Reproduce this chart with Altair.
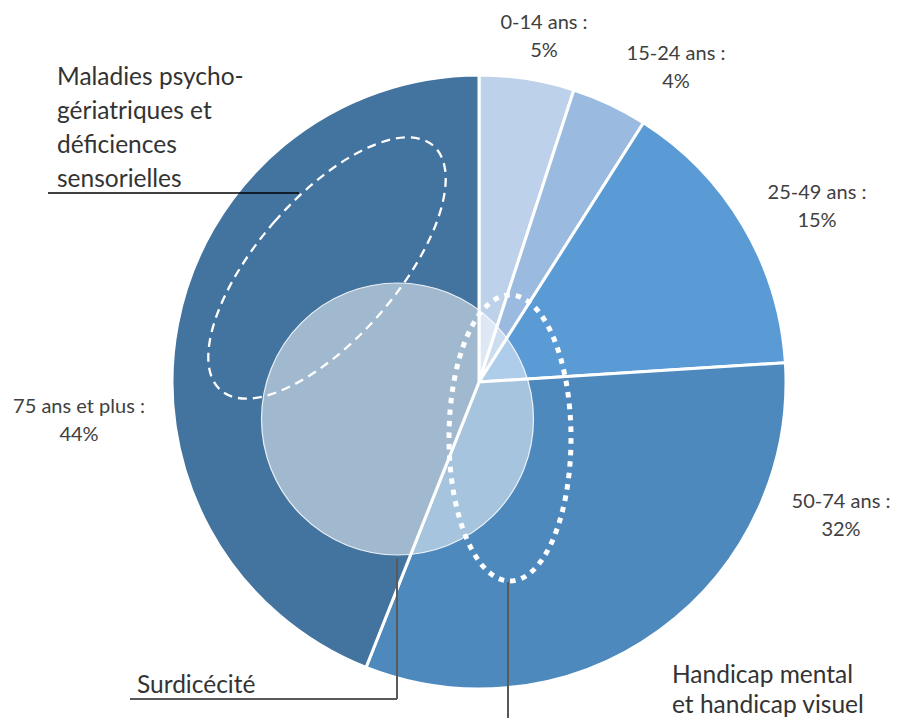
import altair as alt
import pandas as pd

# ---------------- data ----------------
categories = ["0-14 ans", "15-24 ans", "25-49 ans", "50-74 ans", "75 ans et plus"]
values = [5, 4, 15, 32, 44]
colors = ["#BDD1EB", "#9ABAE0", "#5B9BD5", "#4E89BE", "#43739F"]
label_texts = ["0-14 ans :\n5%", "15-24 ans :\n4%", "25-49 ans :\n15%",
               "50-74 ans :\n32%", "75 ans et plus :\n44%"]

annotation_texts = [
    "Maladies psycho-\ngériatriques et\ndéficiences\nsensorielles",
    "Surdicécité",
]
annotation_texts2 = ["Handicap mental\net handicap visuel"]

# ---------------- layout (chart pixel space, y downward) ----------------
W, H = 883, 710
pie_cx, pie_cy, pie_r = 471, 374, 307
label_x = [536, 668, 809, 833, 71]
label_y = [21, 52, 191, 500, 405]
annot_x = [49, 129]
annot_y = [77, 685]
annot2_x = [664]
annot2_y = [675]

ELLIPSE_K = 0.5523


def ellipse_path(rx):
    k = ELLIPSE_K
    return (f"M {-rx} 0 C {-rx} {-k} {-rx*k} -1 0 -1 "
            f"C {rx*k} -1 {rx} {-k} {rx} 0 "
            f"C {rx} {k} {rx*k} 1 0 1 "
            f"C {-rx*k} 1 {-rx} {k} {-rx} 0 Z")


xs = alt.Scale(domain=[0, W], nice=False, zero=False)
ys = alt.Scale(domain=[0, H], nice=False, zero=False, reverse=True)
X = alt.X("x:Q", scale=xs, axis=None)
Y = alt.Y("y:Q", scale=ys, axis=None)

pie_df = pd.DataFrame({"cat": categories, "value": values,
                       "idx": list(range(len(categories)))})

pie = alt.Chart(pie_df).mark_arc(radius=pie_r, stroke="white", strokeWidth=3).encode(
    theta=alt.Theta("value:Q", stack=True),
    color=alt.Color("cat:N", scale=alt.Scale(domain=categories, range=colors), legend=None),
    order=alt.Order("idx:Q"),
    x=alt.value(pie_cx),
    y=alt.value(pie_cy),
)

lab_df = pd.DataFrame({"t": label_texts, "x": label_x, "y": label_y})
labels = alt.Chart(lab_df).mark_text(
    font="Lato", fontSize=20, color="#404040", lineBreak="\n", lineHeight=28,
    align="center", baseline="alphabetic"
).encode(x=X, y=Y, text="t:N")

# translucent circle
circ_df = pd.DataFrame({"x": [389.5], "y": [411]})
circle = alt.Chart(circ_df).mark_point(
    shape="circle", filled=True, fill="white", fillOpacity=0.5, opacity=1,
    stroke="white", strokeOpacity=0.85, strokeWidth=1.2, size=272 ** 2
).encode(x=X, y=Y)

dash_df = pd.DataFrame({"x": [319], "y": [260]})
dashed = alt.Chart(dash_df).mark_point(
    shape=ellipse_path(70 / 162), filled=False, opacity=1, stroke="white",
    strokeWidth=2.3, strokeDash=[9, 6], size=(2 * 162) ** 2, angle=41
).encode(x=X, y=Y)

dot_df = pd.DataFrame({"x": [502], "y": [430]})
dotted = alt.Chart(dot_df).mark_point(
    shape=ellipse_path(61 / 143), filled=False, opacity=1, stroke="white",
    strokeWidth=5, strokeDash=[5.5, 6], size=(2 * 143) ** 2, angle=0
).encode(x=X, y=Y)

# leader lines
lines_df = pd.DataFrame({
    "x": [40, 122, 389, 500],
    "y": [185, 691, 550, 574],
    "x2": [291, 389, 389, 500],
    "y2": [185, 691, 691, 710],
    "c": ["#000000", "#595959", "#595959", "#595959"],
    "w": [1.3, 2, 2, 2],
})
leaders = alt.Chart(lines_df).mark_rule().encode(
    x=X, y=Y, x2="x2:Q", y2="y2:Q",
    color=alt.Color("c:N", scale=None),
    strokeWidth=alt.StrokeWidth("w:Q", scale=None),
)

ann_df = pd.DataFrame({"t": annotation_texts, "x": annot_x, "y": annot_y})
annots = alt.Chart(ann_df).mark_text(
    font="Lato", fontSize=24.5, color="#333333", lineBreak="\n", lineHeight=34,
    align="left", baseline="alphabetic"
).encode(x=X, y=Y, text="t:N")

ann2_df = pd.DataFrame({"t": annotation_texts2, "x": annot2_x, "y": annot2_y})
annots2 = alt.Chart(ann2_df).mark_text(
    font="Lato", fontSize=24.5, color="#333333", lineBreak="\n", lineHeight=30,
    align="left", baseline="alphabetic"
).encode(x=X, y=Y, text="t:N")

chart = alt.layer(pie, circle, dashed, dotted, leaders, labels, annots, annots2).properties(
    width=W, height=H, autosize=alt.AutoSizeParams(type="none"), padding=0
).configure_view(stroke=None)

chart.save("out.html", embed_options={"renderer": "svg", "actions": False})
